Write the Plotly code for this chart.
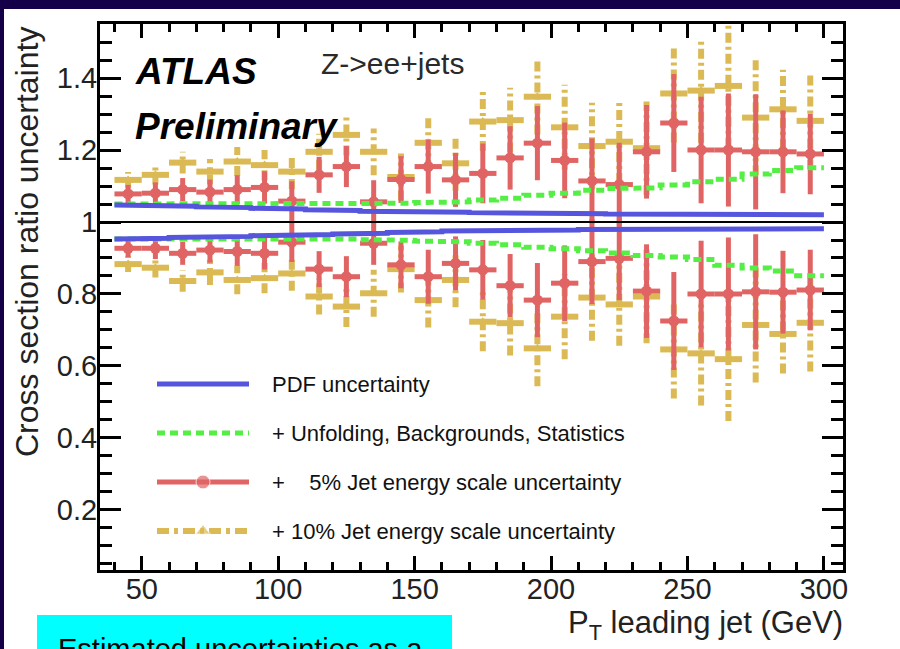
import plotly.graph_objects as go

# ---------------------------------------------------------------------------
# Data: Z->ee+jets cross-section ratio uncertainty vs leading-jet pT
# ---------------------------------------------------------------------------
pt_bins = [45, 55, 65, 75, 85, 95, 105, 115, 125, 135, 145, 155, 165,
           175, 185, 195, 205, 215, 225, 235, 245, 255, 265, 275, 285, 295]
bin_half_width = 5

# PDF uncertainty band (upper / lower edge)
pdf_up = [1.047, 1.046, 1.044, 1.042, 1.040, 1.038, 1.036, 1.034, 1.032, 1.030,
          1.029, 1.028, 1.027, 1.026, 1.025, 1.025, 1.024, 1.023, 1.022, 1.022,
          1.021, 1.021, 1.021, 1.020, 1.020, 1.020]
pdf_down = [0.953, 0.955, 0.957, 0.958, 0.960, 0.962, 0.963, 0.965, 0.967, 0.969,
            0.971, 0.973, 0.975, 0.976, 0.977, 0.978, 0.978, 0.979, 0.979, 0.980,
            0.980, 0.980, 0.981, 0.981, 0.981, 0.981]

# + unfolding, backgrounds, statistics
unf_up = [1.050, 1.050, 1.050, 1.050, 1.050, 1.050, 1.049, 1.049, 1.050, 1.050,
          1.052, 1.054, 1.056, 1.061, 1.066, 1.074, 1.080, 1.088, 1.093, 1.095,
          1.103, 1.112, 1.119, 1.133, 1.143, 1.151]
unf_down = [0.953, 0.953, 0.953, 0.953, 0.953, 0.953, 0.954, 0.955, 0.953, 0.951,
            0.949, 0.947, 0.945, 0.941, 0.937, 0.930, 0.926, 0.920, 0.914, 0.907,
            0.903, 0.896, 0.880, 0.872, 0.864, 0.851]

# + 5% jet energy scale
jes5_up = [1.078, 1.080, 1.090, 1.083, 1.090, 1.096, 1.058, 1.131, 1.154, 1.056,
           1.118, 1.154, 1.117, 1.135, 1.178, 1.219, 1.171, 1.114, 1.104, 1.195,
           1.275, 1.200, 1.200, 1.195, 1.195, 1.189]
jes5_down = [0.927, 0.927, 0.913, 0.922, 0.918, 0.913, 0.944, 0.869, 0.848, 0.941,
             0.881, 0.848, 0.885, 0.867, 0.823, 0.783, 0.830, 0.890, 0.899, 0.808,
             0.725, 0.800, 0.800, 0.806, 0.805, 0.811]
jes5_err = [0.025, 0.030, 0.032, 0.035, 0.040, 0.045, 0.055, 0.050, 0.057, 0.060,
            0.065, 0.075, 0.075, 0.083, 0.088, 0.103, 0.105, 0.118, 0.116, 0.130,
            0.136, 0.148, 0.157, 0.160, 0.115, 0.112]

# + 10% jet energy scale
jes10_up = [1.117, 1.131, 1.165, 1.140, 1.168, 1.158, 1.140, 1.195, 1.242, 1.195,
            1.125, 1.220, 1.163, 1.279, 1.283, 1.348, 1.263, 1.211, 1.223, 1.205,
            1.357, 1.365, 1.378, 1.290, 1.313, 1.281]
jes10_down = [0.883, 0.873, 0.836, 0.860, 0.839, 0.844, 0.857, 0.793, 0.765, 0.802,
              0.869, 0.783, 0.839, 0.723, 0.719, 0.649, 0.737, 0.790, 0.771, 0.793,
              0.646, 0.635, 0.619, 0.714, 0.689, 0.720]
jes10_err = [0.022, 0.027, 0.030, 0.035, 0.040, 0.042, 0.048, 0.050, 0.057, 0.065,
             0.065, 0.076, 0.076, 0.082, 0.090, 0.105, 0.118, 0.120, 0.115, 0.130,
             0.136, 0.145, 0.172, 0.160, 0.110, 0.135]

x_ticks = [50, 100, 150, 200, 250, 300]
y_ticks = [0.2, 0.4, 0.6, 0.8, 1.0, 1.2, 1.4]
y_tick_text = ["0.2", "0.4", "0.6", "0.8", "1", "1.2", "1.4"]

legend_labels = [
    "PDF uncertainty",
    "+ Unfolding, Backgrounds, Statistics",
    "+ \u2007 5% Jet energy scale uncertainty",
    "+ 10% Jet energy scale uncertainty",
]

# ---------------------------------------------------------------------------
# Styling
# ---------------------------------------------------------------------------
FONT = "Liberation Sans, Arial, Helvetica, sans-serif"
BLUE = "#5555dd"
GREEN = "#55ee44"
RED = "#e06464"
GOLD = "#dbba55"
NAVY = "#140048"

W, H = 900, 649
L, R, T, B = 100, 57, 24, 79
PW, PH = W - L - R, H - T - B


def px_x(px):
    return (px - L) / PW


def px_y(py):
    return (H - B - py) / PH


def steps(values):
    xs, ys = [], []
    for c, v in zip(pt_bins, values):
        xs += [c - bin_half_width, c + bin_half_width]
        ys += [v, v]
    return xs, ys


def vertical_segments(centers, errors):
    xs, ys = [], []
    for c, v, e in zip(pt_bins, centers, errors):
        xs += [c, c, None]
        ys += [v - e, v + e, None]
    return xs, ys


fig = go.Figure()

# 10% JES: dash-dot vertical error bars, solid horizontal bin bars
for vals in (jes10_up, jes10_down):
    vx, vy = vertical_segments(vals, jes10_err)
    fig.add_trace(go.Scatter(x=vx, y=vy, mode="lines", showlegend=False,
                             line=dict(color=GOLD, width=6, dash="10px,4px,3px,4px"),
                             hoverinfo="skip"))
    fig.add_trace(go.Scatter(
        x=pt_bins, y=vals, mode="markers", showlegend=False,
        marker=dict(symbol="triangle-up", size=9, color=GOLD),
        error_x=dict(type="constant", value=bin_half_width, thickness=6,
                     width=0, color=GOLD)))

# 5% JES: points with error bars
for vals in (jes5_up, jes5_down):
    fig.add_trace(go.Scatter(
        x=pt_bins, y=vals, mode="markers", showlegend=False,
        marker=dict(symbol="circle", size=11, color=RED),
        error_x=dict(type="constant", value=bin_half_width, thickness=5,
                     width=0, color=RED),
        error_y=dict(type="data", array=jes5_err, thickness=5, width=0,
                     color=RED)))

# Unfolding / backgrounds / statistics band edges
for vals in (unf_up, unf_down):
    sx, sy = steps(vals)
    fig.add_trace(go.Scatter(x=sx, y=sy, mode="lines", showlegend=False,
                             line=dict(color=GREEN, width=5, dash="8px,5px")))

# PDF band edges
for vals in (pdf_up, pdf_down):
    sx, sy = steps(vals)
    fig.add_trace(go.Scatter(x=sx, y=sy, mode="lines", showlegend=False,
                             line=dict(color=BLUE, width=5)))

# ---------------------------------------------------------------------------
# Hand-drawn legend on an overlay 0..1 coordinate frame
# ---------------------------------------------------------------------------
leg_x0, leg_x1 = px_x(157), px_x(249)
leg_mid = (leg_x0 + leg_x1) / 2
leg_rows = [px_y(384), px_y(433), px_y(482), px_y(531)]
leg_styles = [
    dict(line=dict(color=BLUE, width=5), marker=None),
    dict(line=dict(color=GREEN, width=5, dash="8px,5px"), marker=None),
    dict(line=dict(color=RED, width=5),
         marker=dict(symbol="circle", size=[0, 14, 0], color=RED)),
    dict(line=dict(color=GOLD, width=6, dash="12px,5px,4px,5px"),
         marker=dict(symbol="triangle-up", size=[0, 13, 0], color=GOLD)),
]
for row, style in zip(leg_rows, leg_styles):
    fig.add_trace(go.Scatter(
        x=[leg_x0, leg_mid, leg_x1], y=[row, row, row],
        mode="lines+markers" if style["marker"] else "lines",
        line=style["line"], marker=style["marker"] or dict(size=0),
        xaxis="x2", yaxis="y2", showlegend=False, hoverinfo="skip"))

annotations = []
for row, label in zip(leg_rows, legend_labels):
    annotations.append(dict(
        text=label, xref="paper", yref="paper", x=px_x(270), y=row,
        xanchor="left", yanchor="middle", showarrow=False,
        font=dict(family=FONT, size=22, color="#111")))

annotations += [
    dict(text="<b><i>ATLAS</i></b>", xref="paper", yref="paper",
         x=px_x(133), y=px_y(71), xanchor="left", yanchor="middle",
         showarrow=False, font=dict(family=FONT, size=37, color="black")),
    dict(text="<b><i>Preliminary</i></b>", xref="paper", yref="paper",
         x=px_x(133), y=px_y(126), xanchor="left", yanchor="middle",
         showarrow=False, font=dict(family=FONT, size=37, color="black")),
    dict(text="Z->ee+jets", xref="paper", yref="paper",
         x=px_x(319), y=px_y(64), xanchor="left", yanchor="middle",
         showarrow=False, font=dict(family=FONT, size=30, color="#2a2a2a")),
    dict(text="Cross section ratio uncertainty", xref="paper", yref="paper",
         x=px_x(27), y=px_y(25), xanchor="center", yanchor="top",
         textangle=-90, showarrow=False,
         font=dict(family=FONT, size=32, color="#222")),
    dict(text="P<sub>T</sub> leading jet (GeV)", xref="paper", yref="paper",
         x=px_x(845), y=px_y(625), xanchor="right", yanchor="middle",
         showarrow=False, font=dict(family=FONT, size=31, color="#222")),
    dict(text="Estimated uncertainties as a", xref="paper", yref="paper",
         x=px_x(56), y=px_y(649), xanchor="left", yanchor="middle",
         showarrow=False, font=dict(family=FONT, size=29, color="black")),
]

shapes = [
    # white slide panel
    dict(type="rect", xref="paper", yref="paper", layer="below",
         x0=px_x(4), x1=px_x(910), y0=px_y(660), y1=px_y(9),
         fillcolor="white", line=dict(width=0)),
    # cyan caption box
    dict(type="rect", xref="paper", yref="paper", layer="below",
         x0=px_x(37), x1=px_x(452), y0=px_y(660), y1=px_y(615),
         fillcolor="#00ffff", line=dict(width=0)),
    # reference line at ratio 1
    dict(type="line", xref="paper", yref="y", x0=0, x1=1, y0=1, y1=1,
         line=dict(color="black", width=2), layer="above"),
]

axis_common = dict(
    showline=True, linecolor="black", linewidth=3, mirror="allticks",
    ticks="inside", tickwidth=3, tickcolor="black", showgrid=False,
    zeroline=False, tickfont=dict(family=FONT, size=29, color="#222"),
)

fig.update_layout(
    width=W, height=H,
    margin=dict(l=L, r=R, t=T, b=B),
    paper_bgcolor=NAVY, plot_bgcolor="white",
    showlegend=False,
    xaxis=dict(range=[34.7, 307.0], tickvals=x_ticks, ticklen=14,
               ticklabelstandoff=-9,
               minor=dict(dtick=10, tick0=0, ticklen=8, tickwidth=3,
                          ticks="inside", tickcolor="black"),
               **axis_common),
    yaxis=dict(range=[0.0333, 1.55], tickvals=y_ticks, ticktext=y_tick_text,
               ticklen=21, ticklabelstandoff=-6,
               minor=dict(dtick=0.05, tick0=0, ticklen=12, tickwidth=3,
                          ticks="inside", tickcolor="black"),
               **axis_common),
    xaxis2=dict(overlaying="x", range=[0, 1], visible=False, fixedrange=True),
    yaxis2=dict(overlaying="y", range=[0, 1], visible=False, fixedrange=True),
    annotations=annotations,
    shapes=shapes,
)

fig.write_html("out.html")
